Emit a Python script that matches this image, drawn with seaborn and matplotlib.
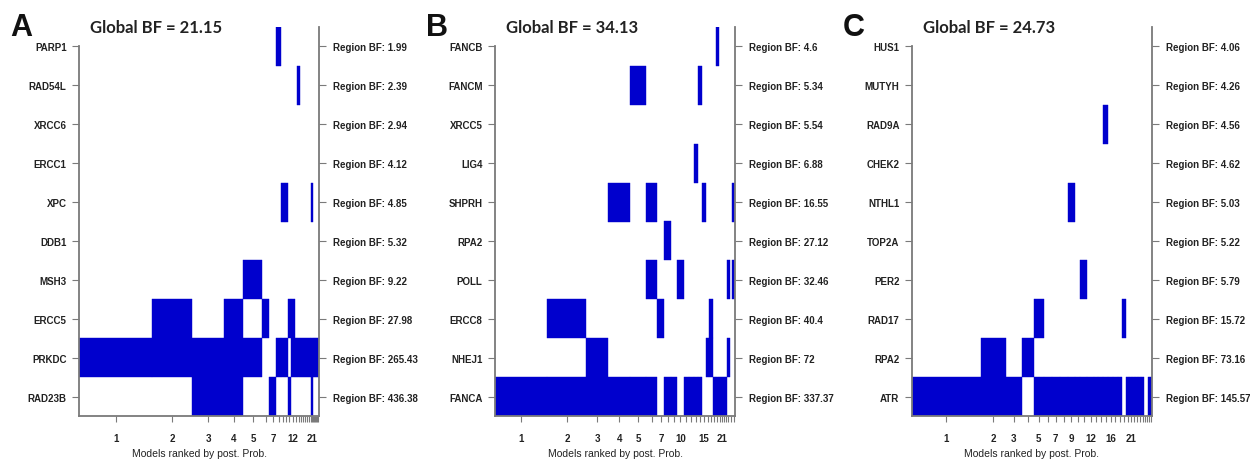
import numpy as np
import matplotlib
matplotlib.use("Agg")
import matplotlib.pyplot as plt
import seaborn as sns

# ---- panel A ----
a_genes = ["PARP1", "RAD54L", "XRCC6", "ERCC1", "XPC", "DDB1", "MSH3", "ERCC5", "PRKDC", "RAD23B"]
a_region_bf = [1.99, 2.39, 2.94, 4.12, 4.85, 5.32, 9.22, 27.98, 265.43, 436.38]
a_global_bf = 21.15
a_model_prob = [73, 40, 32, 19, 19, 7, 7, 4.5, 3.5, 3.3, 3.0, 3.7, 2.8, 2.8,
                2, 2, 2, 2, 2, 1, 1.8, 1, 1, 1, 1, 1, 1]
a_models = [["PRKDC"], ["ERCC5", "PRKDC"], ["PRKDC", "RAD23B"], ["ERCC5", "PRKDC", "RAD23B"],
            ["MSH3", "PRKDC"], ["ERCC5"], ["RAD23B"], ["PARP1", "PRKDC"], ["XPC", "PRKDC"],
            ["XPC", "PRKDC"], ["ERCC5", "RAD23B"], ["ERCC5", "PRKDC"], ["PRKDC"],
            ["RAD54L", "PRKDC"], ["PRKDC"], ["PRKDC"], ["PRKDC"], ["PRKDC"], ["PRKDC"],
            ["PRKDC"], ["XPC", "PRKDC", "RAD23B"], ["PRKDC"], ["PRKDC"], ["PRKDC"],
            ["PRKDC"], ["PRKDC"], ["PRKDC"]]
a_rank_labels = [1, 2, 3, 4, 5, 7, 12, 21]

# ---- panel B ----
b_genes = ["FANCB", "FANCM", "XRCC5", "LIG4", "SHPRH", "RPA2", "POLL", "ERCC8", "NHEJ1", "FANCA"]
b_region_bf = [4.6, 5.34, 5.54, 6.88, 16.55, 27.12, 32.46, 40.4, 72, 337.37]
b_global_bf = 34.13
b_model_prob = [52.5, 39, 22, 22, 15.3, 11.7, 7, 6.5, 6.5, 6.3, 5, 5, 4.3, 4.2,
                3.5, 3.8, 3.5, 2.7, 3.3, 2, 2, 2, 2, 2.7, 2.7, 2.7]
b_models = [["FANCA"], ["ERCC8", "FANCA"], ["NHEJ1", "FANCA"], ["SHPRH", "FANCA"],
            ["FANCM", "FANCA"], ["SHPRH", "POLL", "FANCA"], ["ERCC8"], ["RPA2", "FANCA"],
            ["FANCA"], ["POLL"], ["FANCA"], ["FANCA"], ["LIG4", "FANCA"], ["FANCM", "FANCA"],
            ["SHPRH"], ["NHEJ1"], ["NHEJ1", "ERCC8"], ["FANCA"], ["FANCB", "FANCA"],
            ["FANCA"], ["FANCA"], ["FANCA"], ["FANCA"], ["NHEJ1", "POLL"], [],
            ["POLL", "SHPRH"]]
b_rank_labels = [1, 2, 3, 4, 5, 7, 10, 15, 21]

# ---- panel C ----
c_genes = ["HUS1", "MUTYH", "RAD9A", "CHEK2", "NTHL1", "TOP2A", "PER2", "RAD17", "RPA2", "ATR"]
c_region_bf = [4.06, 4.26, 4.56, 4.62, 5.03, 5.22, 5.79, 15.72, 73.16, 145.57]
c_global_bf = 24.73
c_model_prob = [68.7, 25, 16.3, 12, 9.7, 8, 8, 7.8, 7.8, 5, 7, 6.5, 4.6, 4.6, 5, 5,
                4.7, 4.7, 4, 3, 3, 3, 3, 3, 2.6, 2, 2, 2, 2]
c_models = [["ATR"], ["RPA2", "ATR"], ["ATR"], ["RPA2"], ["RAD17", "ATR"], ["ATR"], ["ATR"],
            ["ATR"], ["NTHL1", "ATR"], ["ATR"], ["PER2", "ATR"], ["ATR"], ["ATR"], ["ATR"],
            ["RAD9A", "ATR"], ["ATR"], ["ATR"], ["ATR"], ["RAD17"], ["ATR"], ["ATR"], ["ATR"],
            ["ATR"], ["ATR"], ["ATR"], [], [], ["ATR"], ["ATR"]]
c_rank_labels = [1, 2, 3, 5, 7, 9, 12, 16, 21]

panel_letters = ["A", "B", "C"]

sns.set_theme(style="white")
plt.rcParams["font.family"] = ["Liberation Sans", "DejaVu Sans"]

BLUE = "#0000CD"
GREY = "#7a7a7a"
W, H = 1250, 460

fig = plt.figure(figsize=(12.5, 4.6), dpi=100)


def draw_panel(left_px, letter, genes, region_bf, global_bf, model_prob, models, rank_labels):
    ax = fig.add_axes([left_px / W, 1 - 417 / H, 240 / W, 389 / H])
    n = len(genes)
    prob = np.asarray(model_prob, dtype=float)
    edges = np.concatenate([[0], np.cumsum(prob)])
    centers = (edges[:-1] + edges[1:]) / 2
    row = {g: n - 1 - i for i, g in enumerate(genes)}

    for k, m in enumerate(models):
        for g in m:
            ax.bar(edges[k], 1, width=prob[k], bottom=row[g] - 0.5, align="edge",
                   color=BLUE, edgecolor=BLUE, linewidth=0.3)

    ax.set_xlim(0, edges[-1])
    ax.set_ylim(-0.5, n - 0.5)

    # left axis: gene names
    ax.set_yticks(range(n))
    ax.set_yticklabels(genes[::-1], fontsize=7, fontweight="bold", color="#222222")
    # bottom axis: model ranks
    ax.set_xticks(centers)
    ax.set_xticklabels([str(i + 1) if (i + 1) in rank_labels else "" for i in range(len(prob))],
                       fontsize=7, fontweight="bold", color="#222222")
    ax.tick_params(axis="y", length=5, width=0.8, color=GREY, pad=4, left=True)
    ax.tick_params(axis="x", length=4, width=0.8, color=GREY, pad=8, bottom=True)

    sns.despine(ax=ax, top=True, right=True)
    for s in ("left", "bottom"):
        ax.spines[s].set_color(GREY)
        ax.spines[s].set_linewidth(1.3)
    ax.spines["left"].set_bounds(-0.5, n - 1)

    # right axis: region Bayes factors
    ax2 = ax.twinx()
    ax2.set_ylim(ax.get_ylim())
    ax2.set_yticks(range(n))
    ax2.set_yticklabels([f"Region BF: {v:g}" for v in region_bf[::-1]],
                        fontsize=7, fontweight="bold", color="#222222")
    ax2.tick_params(axis="y", length=5, width=0.8, color=GREY, pad=5, right=True)
    for s in ("left", "top", "bottom"):
        ax2.spines[s].set_visible(False)
    ax2.spines["right"].set_color(GREY)
    ax2.spines["right"].set_linewidth(1.3)

    ax.text(0.5, -0.095, "Models ranked by post. Prob.", transform=ax.transAxes,
            ha="center", va="center", fontsize=7.5, color="#222222")

    fig.text((left_px + 11) / W, 1 - 28 / H, f"Global BF = {global_bf:.2f}",
             ha="left", va="center", fontsize=12, fontweight="bold",
             family=["Lato", "DejaVu Sans"], color="#222222")
    fig.text((left_px - 69) / W, 1 - 28 / H, letter, ha="left", va="center",
             fontsize=22, fontweight="bold", color="#111111")


draw_panel(79, panel_letters[0], a_genes, a_region_bf, a_global_bf, a_model_prob, a_models, a_rank_labels)
draw_panel(495, panel_letters[1], b_genes, b_region_bf, b_global_bf, b_model_prob, b_models, b_rank_labels)
draw_panel(912, panel_letters[2], c_genes, c_region_bf, c_global_bf, c_model_prob, c_models, c_rank_labels)

fig.savefig("out.png", dpi=100, facecolor="white")
